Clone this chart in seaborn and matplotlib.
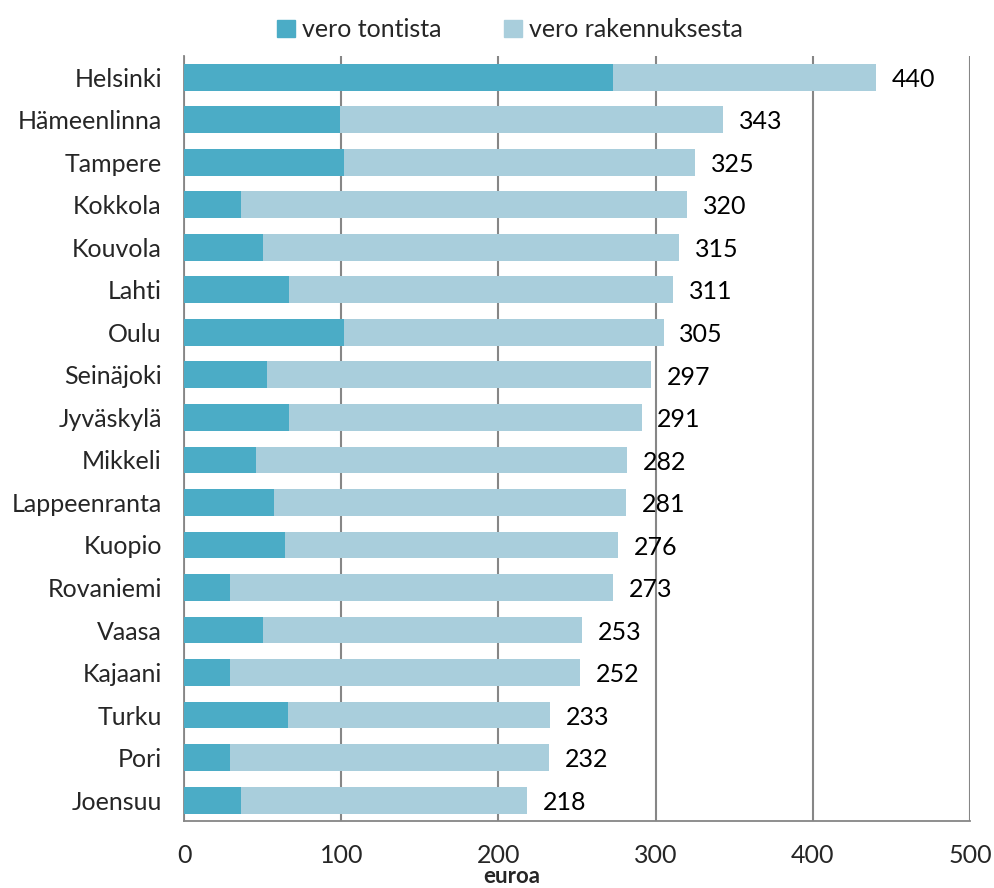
import pandas as pd
import numpy as np
import matplotlib
matplotlib.use('Agg')
import matplotlib.pyplot as plt
from matplotlib.patches import Patch
from matplotlib.ticker import FixedLocator
import seaborn as sns

sns.set_style('white')
plt.rcParams['font.family'] = ['Lato', 'DejaVu Sans']

# %%
cities = ['Helsinki', 'Hämeenlinna', 'Tampere', 'Kokkola', 'Kouvola', 'Lahti', 'Oulu',
          'Seinäjoki', 'Jyväskylä', 'Mikkeli', 'Lappeenranta', 'Kuopio', 'Rovaniemi',
          'Vaasa', 'Kajaani', 'Turku', 'Pori', 'Joensuu']
totals = [440, 343, 325, 320, 315, 311, 305, 297, 291, 282, 281, 276, 273, 253, 252, 233, 232, 218]
tontti = [273, 99, 102, 36, 50, 67, 102, 53, 67, 46, 57, 64, 29, 50, 29, 66, 29, 36]

df = pd.DataFrame({'kaupunki': cities, 'yhteensa': totals, 'tontti': tontti})
df['rakennus'] = df['yhteensa'] - df['tontti']

dark = '#4BACC6'
light = '#A9CEDC'
grey = '#868686'
fs = 18

# %%
fig = plt.figure(figsize=(9.95, 8.88), dpi=100)
ax = fig.add_axes([0.185, 0.075, 0.79, 0.862])

sns.barplot(data=df, x='yhteensa', y='kaupunki', orient='h', color=light,
            width=0.63, saturation=1, linewidth=0, ax=ax, zorder=3)
sns.barplot(data=df, x='tontti', y='kaupunki', orient='h', color=dark,
            width=0.63, saturation=1, linewidth=0, ax=ax, zorder=4)

for i, t in enumerate(df['yhteensa']):
    ax.text(t + 10, i + 0.05, str(t), va='center', ha='left', fontsize=fs, color='black')

ax.set_xlim(0, 500)
ax.set_ylim(17.5, -0.5)
ax.set_xticks(range(0, 501, 100))
ax.tick_params(axis='x', labelsize=fs, length=6, width=1.3, color=grey, direction='out', pad=10)
ax.tick_params(axis='y', which='major', labelsize=fs, length=0, pad=16)
ax.yaxis.set_minor_locator(FixedLocator(np.arange(-0.5, 18, 1)))
ax.tick_params(axis='y', which='minor', length=6, width=1.3, color=grey, direction='out')
ax.xaxis.grid(True, color=grey, linewidth=1.5, zorder=0)
ax.set_axisbelow(True)
for s in ['top', 'right']:
    ax.spines[s].set_visible(False)
for s in ['left', 'bottom']:
    ax.spines[s].set_color(grey)
    ax.spines[s].set_linewidth(1.3)
ax.set_ylabel('')
ax.set_xlabel('euroa', fontsize=16, fontweight='bold', va='baseline')
ax.xaxis.set_label_coords(0.417, -0.081)

handles = [Patch(color=dark, label='vero tontista'), Patch(color=light, label='vero rakennuksesta')]
fig.legend(handles=handles, loc='upper center', bbox_to_anchor=(0.513, 1.005), ncol=2,
           frameon=False, fontsize=fs, handlelength=0.7, handleheight=0.7,
           columnspacing=2.5, handletextpad=0.3)

plt.savefig('out.png', dpi=100)
